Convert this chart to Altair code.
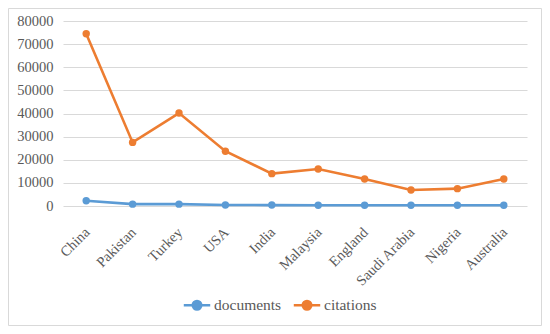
import altair as alt
import pandas as pd

countries = ["China", "Pakistan", "Turkey", "USA", "India", "Malaysia",
             "England", "Saudi Arabia", "Nigeria", "Australia"]
documents = [2300, 800, 800, 400, 400, 350, 350, 350, 300, 300]
citations = [74500, 27500, 40200, 23700, 14000, 16000, 11700, 6900, 7500, 11700]
series = ["documents", "citations"]
colors = ["#5B9BD5", "#ED7D31"]
y_ticks = [0, 10000, 20000, 30000, 40000, 50000, 60000, 70000, 80000]

rows = []
for c, d, ct in zip(countries, documents, citations):
    rows.append({"country": c, "series": "documents", "value": d})
    rows.append({"country": c, "series": "citations", "value": ct})
df = pd.DataFrame(rows)

FONT = "Liberation Serif"
legend_symbol = "M-1,0L1,0M-0.32,0a0.32,0.32 0 1,0 0.64,0a0.32,0.32 0 1,0 -0.64,0Z"

lines = alt.Chart(df).mark_line(
    strokeWidth=2.6,
    point=alt.OverlayMarkDef(filled=True, size=55),
).encode(
    x=alt.X("country:N", sort=countries, title=None,
            scale=alt.Scale(paddingInner=0, paddingOuter=0.5),
            axis=alt.Axis(labelAngle=-45, labelFont=FONT, labelFontSize=14.5,
                          labelColor="#595959", ticks=False, domain=False,
                          labelPadding=19, labelOffset=-4, grid=False)),
    y=alt.Y("value:Q", title=None,
            scale=alt.Scale(domain=[0, 80000], nice=False),
            axis=alt.Axis(values=y_ticks, format="d", labelFont=FONT, labelFontSize=14.5,
                          labelColor="#595959", ticks=False, domain=False,
                          labelPadding=10, gridColor="#D9D9D9", gridWidth=1.2)),
    color=alt.Color("series:N", sort=series,
                    scale=alt.Scale(domain=series, range=colors),
                    legend=alt.Legend(title=None, orient="none", direction="horizontal",
                                      legendX=119, legendY=269,
                                      symbolType=legend_symbol, symbolSize=700,
                                      symbolStrokeWidth=2.6,
                                      labelFont=FONT, labelFontSize=15.5,
                                      labelColor="#595959", columnPadding=6,
                                      labelOffset=2)),
)

border = alt.Chart(pd.DataFrame({"b": [0]})).mark_rect(
    fill=None, stroke="#D9D9D9", strokeWidth=1
).encode(
    x=alt.value(-54.5), x2=alt.value(478.5),
    y=alt.value(-12.5), y2=alt.value(304.5),
)

chart = alt.layer(border, lines).properties(
    width=464, height=185,
    autosize=alt.AutoSizeParams(type="none"),
    padding={"left": 55, "top": 13, "right": 15, "bottom": 120},
).configure(font=FONT).configure_view(stroke=None)

chart.save("out.html", embed_options={"renderer": "svg", "actions": False})
